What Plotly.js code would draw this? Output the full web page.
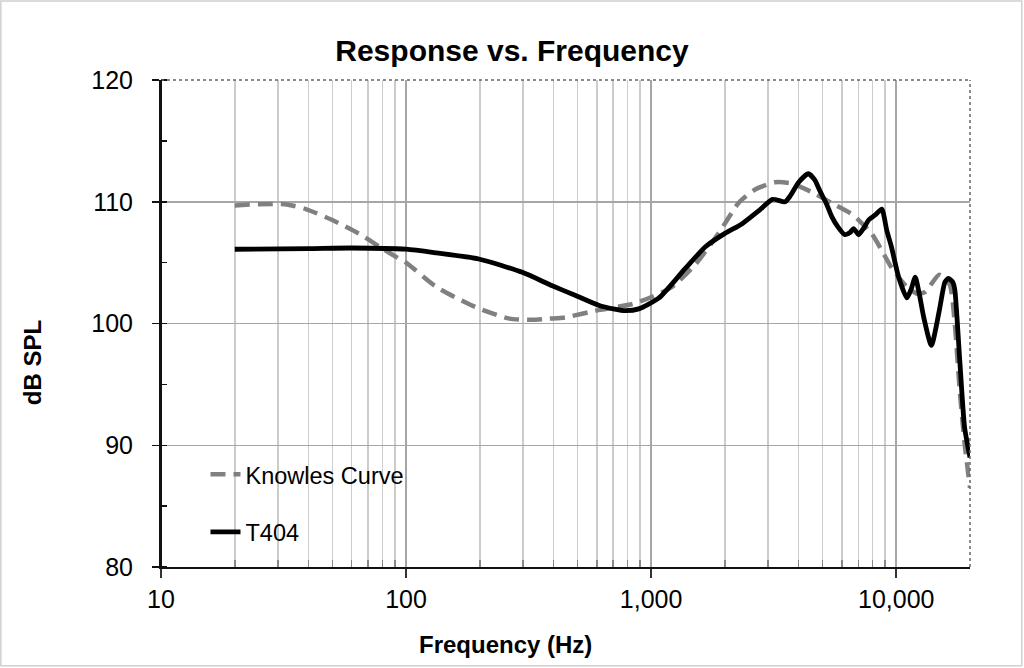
<!DOCTYPE html>
<html>
<head>
<meta charset="utf-8">
<script src="https://cdn.plot.ly/plotly-3.0.1.min.js"></script>
<style>html,body{margin:0;padding:0;background:#fff;} #chart{width:1024px;height:668px;}</style>
</head>
<body>
<div id="chart"></div>
<script>
// Knowles target curve
var knowlesFreq = [20, 25, 32, 39, 50, 64, 78, 94, 100, 133, 176, 200, 264, 327, 384, 445, 610, 840, 1010, 1216, 1515, 1884, 2274, 2656, 3205, 3751, 4520, 5450, 6575, 7020, 7930, 8730, 9560, 11060, 12200, 13150, 14970, 16520, 17330, 18160, 19000, 20000];
var knowlesDb   = [109.7, 109.8, 109.8, 109.4, 108.5, 107.4, 106.3, 105.3, 105.0, 103.0, 101.7, 101.2, 100.4, 100.3, 100.4, 100.5, 101.1, 101.6, 102.2, 103.0, 104.85, 107.4, 109.9, 111.0, 111.6, 111.5, 110.8, 109.9, 109.0, 108.5, 107.4, 106.0, 104.6, 103.0, 102.45, 102.6, 104.0, 103.2, 100.0, 94.5, 90.2, 86.5];

// T404 measured response
var t404Freq = [20, 40, 60, 100, 133, 198, 298, 395, 492, 610, 700, 788, 890, 1076, 1376, 1665, 2000, 2353, 2763, 3126, 3521, 3700, 4000, 4378, 4650, 4880, 5200, 5450, 5800, 6170, 6500, 6700, 7020, 7400, 7720, 8300, 8730, 9160, 9560, 10230, 11060, 11500, 11960, 12400, 12950, 13910, 14970, 15800, 16320, 17000, 17330, 18160, 19000, 20000];
var t404Db   = [106.1, 106.15, 106.2, 106.1, 105.8, 105.3, 104.2, 103.1, 102.3, 101.5, 101.2, 101.05, 101.2, 102.1, 104.5, 106.3, 107.4, 108.2, 109.3, 110.2, 110.0, 110.5, 111.6, 112.3, 111.8, 110.9, 109.8, 108.8, 107.9, 107.3, 107.5, 107.8, 107.3, 107.9, 108.5, 109.0, 109.4, 107.6, 106.3, 103.8, 102.1, 102.8, 103.8, 102.5, 100.5, 98.2, 101.0, 103.4, 103.7, 103.4, 102.8, 97.0, 91.5, 89.0];

// axis ticks
var xTickVals = [10, 100, 1000, 10000];
var xTickText = ['10', '100', '1,000', '10,000'];
var xMinorVals = [20,30,40,50,60,70,80,90,200,300,400,500,600,700,800,900,2000,3000,4000,5000,6000,7000,8000,9000];
var yTickVals = [80, 90, 100, 110, 120];

var FONT = 'Liberation Sans, Arial, sans-serif';

var traces = [
  {
    x: knowlesFreq, y: knowlesDb, name: 'Knowles Curve', legendgroup: 'a',
    type: 'scatter', mode: 'lines',
    line: {color: '#808080', width: 4.5, dash: '15px,8px', shape: 'spline', smoothing: 0.6}
  },
  {
    x: t404Freq, y: t404Db, name: 'T404', legendgroup: 'b',
    type: 'scatter', mode: 'lines',
    line: {color: '#000000', width: 4.8, shape: 'spline', smoothing: 0.6}
  }
];

var layout = {
  width: 1024, height: 668,
  margin: {l: 161, r: 54, t: 80, b: 101},
  paper_bgcolor: '#ffffff', plot_bgcolor: '#ffffff',
  font: {family: FONT, color: '#000000', size: 24},
  title: {
    text: 'Response vs. Frequency',
    font: {family: FONT, size: 30, weight: 'bold', color: '#000'},
    xref: 'container', x: 0.5, xanchor: 'center',
    yref: 'container', y: 0.924, yanchor: 'middle'
  },
  showlegend: true,
  legend: {
    x: 0.055, xanchor: 'left', y: 0.235, yanchor: 'top',
    bgcolor: 'rgba(255,255,255,0)', borderwidth: 0,
    font: {family: FONT, size: 23.5, color: '#000'},
    traceorder: 'grouped', tracegroupgap: 24
  },
  xaxis: {
    type: 'log', range: [1, Math.log10(20000)],
    tickmode: 'array', tickvals: xTickVals, ticktext: xTickText,
    ticks: 'outside', ticklen: 9, tickwidth: 1.5, tickcolor: '#333',
    tickfont: {family: FONT, size: 25, color: '#000'},
    showgrid: true, gridcolor: '#a6a6a6', gridwidth: 1.5,
    showline: true, linecolor: '#111', linewidth: 2,
    zeroline: false,
    minor: {tickmode: 'array', tickvals: xMinorVals, ticks: 'inside', ticklen: 7, tickcolor: '#888',
            showgrid: true, gridcolor: '#cccccc', gridwidth: 1.5},
    fixedrange: true
  },
  yaxis: {
    range: [80, 120],
    tickmode: 'array', tickvals: yTickVals,
    ticks: 'outside', ticklen: 7, tickwidth: 1.5, tickcolor: '#111',
    tickfont: {family: FONT, size: 25, color: '#000'},
    ticklabelstandoff: 14,
    showgrid: true, gridcolor: '#a6a6a6', gridwidth: 1.5,
    showline: true, linecolor: '#111', linewidth: 2,
    zeroline: false,
    minor: {dtick: 5, ticks: 'inside', ticklen: 6, tickcolor: '#111', showgrid: false},
    fixedrange: true
  },
  annotations: [
    {text: 'Frequency (Hz)', xref: 'paper', yref: 'paper', x: 0.426, y: -0.160,
     xanchor: 'center', yanchor: 'middle', showarrow: false,
     font: {family: FONT, size: 24, weight: 'bold', color: '#000'}},
    {text: 'dB SPL', xref: 'paper', yref: 'paper', x: -0.158, y: 0.419, textangle: -90,
     xanchor: 'center', yanchor: 'middle', showarrow: false,
     font: {family: FONT, size: 24, weight: 'bold', color: '#000'}}
  ],
  shapes: [
    {type: 'line', xref: 'paper', yref: 'paper', x0: 0, x1: 1, y0: 1, y1: 1,
     line: {color: '#666', width: 1.5, dash: 'dot'}},
    {type: 'line', xref: 'paper', yref: 'paper', x0: 1, x1: 1, y0: 0, y1: 1,
     line: {color: '#666', width: 1.5, dash: 'dot'}},
    {type: 'line', xref: 'paper', yref: 'paper', x0: 0, x1: 0, y0: 0, y1: 1,
     line: {color: '#111', width: 2}},
    {type: 'rect', xref: 'paper', yref: 'paper', x0: -0.198, x1: 1.064, y0: -0.203, y1: 1.162,
     line: {color: '#d0d0d0', width: 1.5}, layer: 'below'}
  ]
};

Plotly.newPlot('chart', traces, layout, {staticPlot: true, displayModeBar: false});
</script>
</body>
</html>
